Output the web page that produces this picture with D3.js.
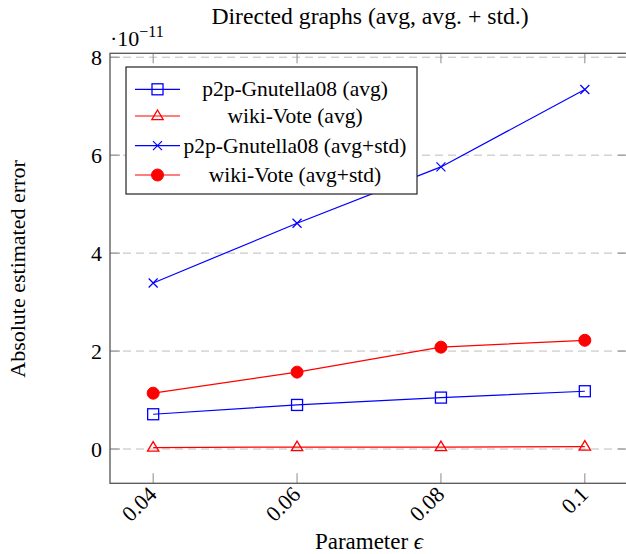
<!DOCTYPE html>
<html>
<head>
<meta charset="utf-8">
<script src="https://cdn.jsdelivr.net/npm/d3@7"></script>
<style>
  html, body { margin: 0; padding: 0; background: #fff; }
  svg { display: block; }
  text { font-family: "Liberation Serif", "DejaVu Serif", serif; fill: #000; }
</style>
</head>
<body>
<svg id="chart" width="626" height="554"></svg>
<script>
const epsilons = [0.04, 0.06, 0.08, 0.1];
const xTickLabels = ["0.04", "0.06", "0.08", "0.1"];
const yTicks = [0, 2, 4, 6, 8];
const p2pAvg = [0.71, 0.90, 1.05, 1.18];
const wikiAvg = [0.03, 0.04, 0.04, 0.05];
const p2pAvgStd = [3.39, 4.61, 5.76, 7.34];
const wikiAvgStd = [1.14, 1.57, 2.08, 2.22];
const seriesNames = ["p2p-Gnutella08 (avg)", "wiki-Vote (avg)", "p2p-Gnutella08 (avg+std)", "wiki-Vote (avg+std)"];

const series = [
  { name: seriesNames[0], values: p2pAvg, color: "#0000ff", marker: "square" },
  { name: seriesNames[1], values: wikiAvg, color: "#ff0000", marker: "triangle" },
  { name: seriesNames[2], values: p2pAvgStd, color: "#0000ff", marker: "cross" },
  { name: seriesNames[3], values: wikiAvgStd, color: "#ff0000", marker: "circle" }
];

const FONT = "'Liberation Serif', 'DejaVu Serif', serif";
const svg = d3.select("#chart");
const L = 110, R = 628, T = 53.3, B = 483.3;
const x = d3.scaleLinear().domain([0.034, 0.106]).range([L, R]);
const y = d3.scaleLinear().domain([-0.7, 8.08]).range([B, T]);

// grid lines
svg.append("g").selectAll("line").data(yTicks).join("line")
  .attr("x1", L).attr("x2", R)
  .attr("y1", d => y(d)).attr("y2", d => y(d))
  .attr("stroke", "#bdbdbd").attr("stroke-width", 1)
  .attr("stroke-dasharray", "8,5");

// ticks (inward, both sides)
const tickLen = 10;
const gT = svg.append("g").attr("stroke", "#8a8a8a").attr("stroke-width", 1);
epsilons.forEach(e => {
  gT.append("line").attr("x1", x(e)).attr("x2", x(e)).attr("y1", B).attr("y2", B - tickLen);
  gT.append("line").attr("x1", x(e)).attr("x2", x(e)).attr("y1", T).attr("y2", T + tickLen);
});
yTicks.forEach(v => {
  gT.append("line").attr("x1", L).attr("x2", L + tickLen).attr("y1", y(v)).attr("y2", y(v));
  gT.append("line").attr("x1", R).attr("x2", R - tickLen).attr("y1", y(v)).attr("y2", y(v));
});

// axis frame
svg.append("rect").attr("x", L).attr("y", T).attr("width", R - L).attr("height", B - T)
  .attr("fill", "none").attr("stroke", "#555").attr("stroke-width", 1.3);

// y tick labels
const yAxis = d3.axisLeft(y).tickValues(yTicks).tickSize(0).tickPadding(8).tickFormat(d3.format("d"));
const gy = svg.append("g").attr("transform", `translate(${L},0)`).call(yAxis);
gy.select(".domain").remove();
gy.selectAll("text").attr("font-size", 22).attr("font-family", FONT).attr("fill", "#000")
  .attr("dy", "0.33em");

// x tick labels rotated
const xAxis = d3.axisBottom(x).tickValues(epsilons).tickSize(0).tickFormat((d, i) => xTickLabels[i]);
const gx = svg.append("g").attr("transform", `translate(0,${B})`).call(xAxis);
gx.select(".domain").remove();
gx.selectAll("text")
  .attr("font-size", 22).attr("font-family", FONT).attr("fill", "#000")
  .attr("text-anchor", "end").attr("dy", null).attr("y", 0)
  .attr("transform", "translate(-1,7) rotate(-45)")
  .attr("dominant-baseline", "central");

// multiplier
const mult = svg.append("text").attr("x", 110).attr("y", 46).attr("font-size", 22).attr("font-family", FONT);
mult.append("tspan").text("·10");
mult.append("tspan").attr("dy", -9).attr("font-size", 16).text("−11");

// title
svg.append("text").attr("x", 370).attr("y", 24).attr("text-anchor", "middle")
  .attr("font-size", 23.7).attr("font-family", FONT).text("Directed graphs (avg, avg. + std.)");

// axis labels
const xl = svg.append("text").attr("x", 369).attr("y", 549).attr("text-anchor", "middle")
  .attr("font-size", 23).attr("font-family", FONT);
xl.append("tspan").text("Parameter ");
xl.append("tspan").attr("font-style", "italic").text("ϵ");
svg.append("text").attr("transform", "translate(25,269) rotate(-90)").attr("text-anchor", "middle")
  .attr("font-size", 22).attr("font-family", FONT).text("Absolute estimated error");

function drawMarker(g, type, cx, cy, color) {
  if (type === "square") {
    g.append("rect").attr("x", cx - 5.5).attr("y", cy - 5.5).attr("width", 11).attr("height", 11)
      .attr("fill", "none").attr("stroke", color).attr("stroke-width", 1.3);
  } else if (type === "triangle") {
    const s = 6;
    g.append("path").attr("d", `M${cx},${cy - s}L${cx + s * 0.95},${cy + s * 0.6}L${cx - s * 0.95},${cy + s * 0.6}Z`)
      .attr("fill", "none").attr("stroke", color).attr("stroke-width", 1.3);
  } else if (type === "cross") {
    const s = 4.5;
    g.append("path").attr("d", `M${cx - s},${cy - s}L${cx + s},${cy + s}M${cx - s},${cy + s}L${cx + s},${cy - s}`)
      .attr("fill", "none").attr("stroke", color).attr("stroke-width", 1.2);
  } else if (type === "circle") {
    g.append("circle").attr("cx", cx).attr("cy", cy).attr("r", 6).attr("fill", color).attr("stroke", color);
  }
}

const line = d3.line().x((d, i) => x(epsilons[i])).y(d => y(d));
series.forEach(s => {
  const g = svg.append("g");
  g.append("path").attr("d", line(s.values)).attr("fill", "none")
    .attr("stroke", s.color).attr("stroke-width", 1.2);
  s.values.forEach((v, i) => drawMarker(g, s.marker, x(epsilons[i]), y(v), s.color));
});

// legend
const lg = svg.append("g");
lg.append("rect").attr("x", 126).attr("y", 67).attr("width", 291).attr("height", 127)
  .attr("fill", "#fff").attr("stroke", "#222").attr("stroke-width", 1.2);
const legY = [89.3, 116, 145.7, 175];
series.forEach((s, i) => {
  const yy = legY[i];
  lg.append("line").attr("x1", 135).attr("x2", 180).attr("y1", yy).attr("y2", yy)
    .attr("stroke", s.color).attr("stroke-width", 1.2);
  drawMarker(lg, s.marker, 157.5, yy, s.color);
  lg.append("text").attr("x", 295).attr("y", yy).attr("dy", "0.33em").attr("text-anchor", "middle")
    .attr("font-size", 21.5).attr("font-family", FONT).text(s.name);
});
</script>
</body>
</html>
